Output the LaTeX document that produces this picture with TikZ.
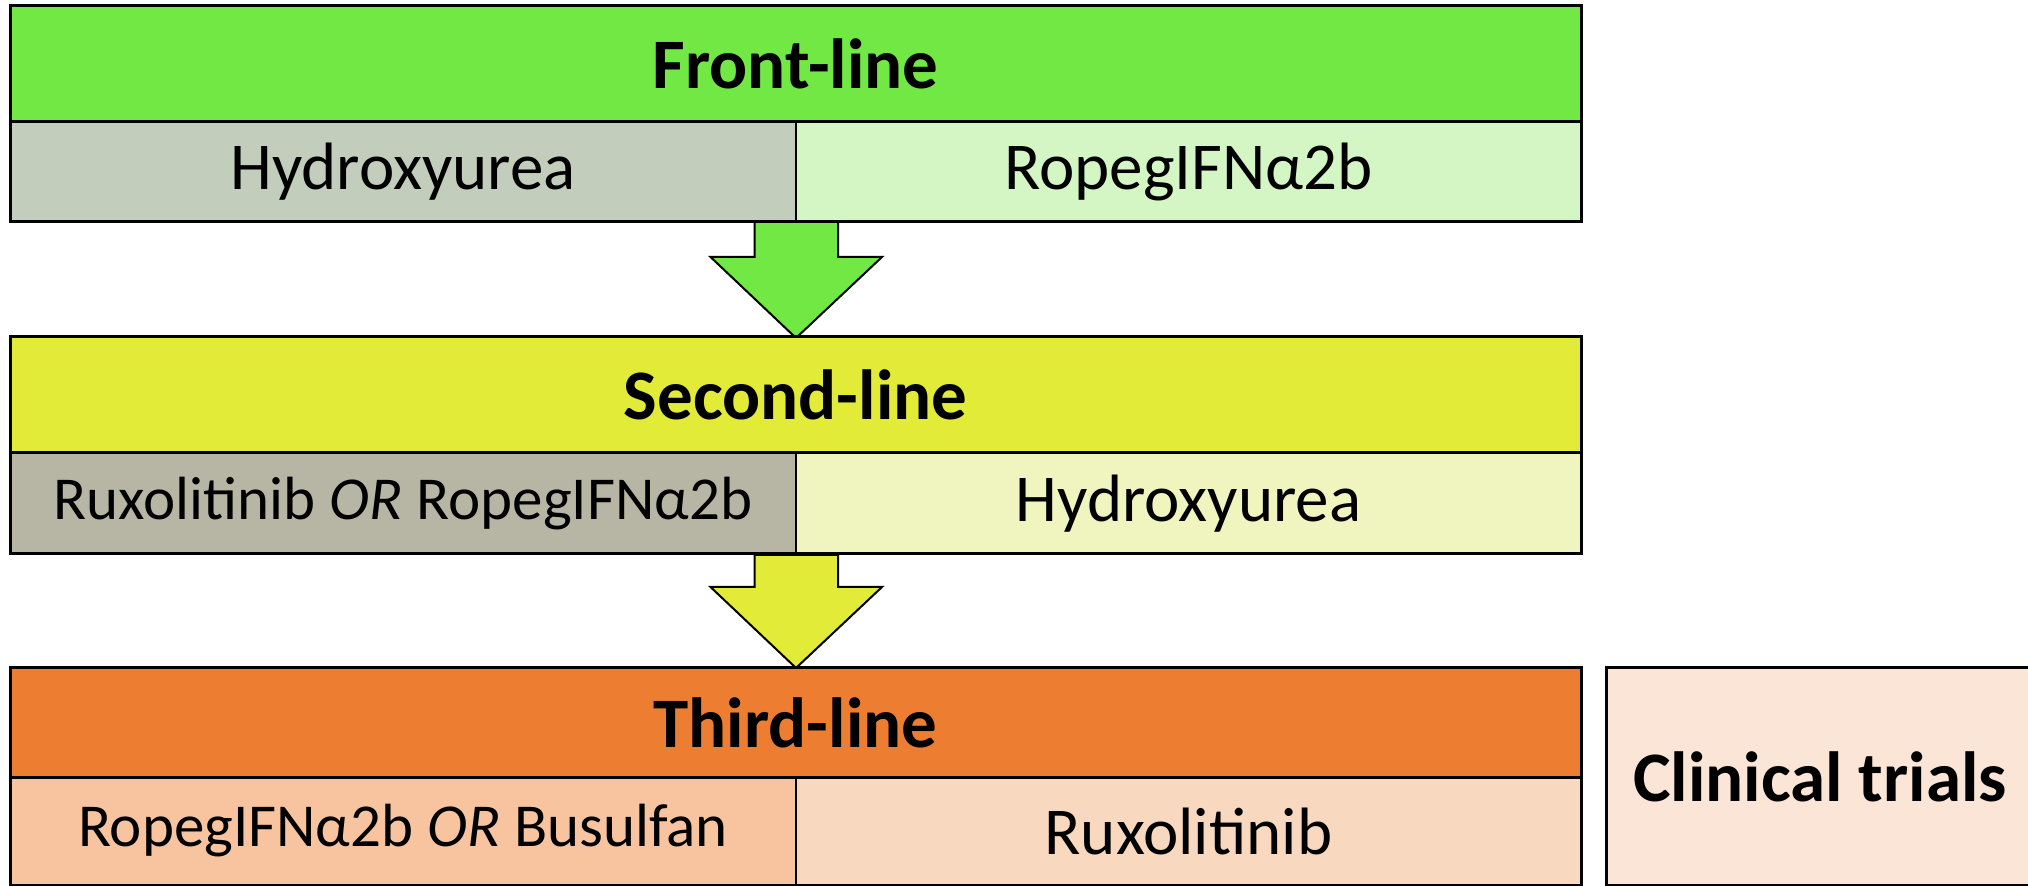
\documentclass[tikz,border=0pt]{standalone}
\usepackage{fontspec}
\setmainfont{Carlito}
\definecolor{hgreen}{RGB}{113,232,67}
\definecolor{cgrayg}{RGB}{194,205,187}
\definecolor{clgreen}{RGB}{212,245,196}
\definecolor{hyellow}{RGB}{226,235,56}
\definecolor{cgrayy}{RGB}{183,181,163}
\definecolor{clyellow}{RGB}{240,245,192}
\definecolor{horange}{RGB}{237,125,49}
\definecolor{csalmon}{RGB}{248,196,160}
\definecolor{cpeach}{RGB}{248,217,192}
\definecolor{cclin}{RGB}{251,229,214}
\begin{document}
\begin{tikzpicture}[x=0.5pt,y=-0.5pt,
  cell/.style={inner sep=0pt, draw=black, line width=1pt, font=\fontsize{33.5}{40}\selectfont},
  smallcell/.style={cell, font=\fontsize{30.5}{36}\selectfont},
  hdr/.style={inner sep=0pt, draw=black, line width=1.5pt, font=\fontsize{35.5}{42}\selectfont\bfseries},
  frame/.style={inner sep=0pt, draw=black, line width=1.5pt, minimum width=785.5pt},
  blockarrow/.style={draw=black, line width=1pt, line join=miter}]
\useasboundingbox (0,0) rectangle (2028,886);
\clip (0,0) rectangle (2028,886);
% arrows
\coordinate (a1) at (796,222);
\coordinate (a2) at (796,555);
\draw[blockarrow, fill=hgreen] (a1) ++(-41.5,0) -- ++(0,35) -- ++(-44,0) -- (796,338) -- (882,257) -- ++(-44,0) -- ++(0,-35) -- cycle;
\draw[blockarrow, fill=hyellow] (a2) ++(-41.5,0) -- ++(0,32) -- ++(-44,0) -- (796,668) -- (882,587) -- ++(-44,0) -- ++(0,-32) -- cycle;
% box 1
\node[cell, fill=cgrayg, minimum width=393pt, minimum height=50pt] (c11) at (403,172) {Hydroxyurea};
\node[cell, fill=clgreen, minimum width=392.5pt, minimum height=50pt] (c12) at (1188.5,172) {RopegIFNα2b};
\node[hdr, fill=hgreen, minimum width=785.5pt, minimum height=58pt] (h1) at (795.5,64) {Front-line};
\node[frame, minimum height=108pt] (b1) at (795.5,114) {};
% box 2
\node[smallcell, fill=cgrayy, minimum width=393pt, minimum height=50.5pt] (c21) at (403,503.5) {Ruxolitinib \textit{OR} RopegIFNα2b};
\node[cell, fill=clyellow, minimum width=392.5pt, minimum height=50.5pt] (c22) at (1188.5,503.5) {Hydroxyurea};
\node[hdr, fill=hyellow, minimum width=785.5pt, minimum height=58pt] (h2) at (795.5,395) {Second-line};
\node[frame, minimum height=108.5pt] (b2) at (795.5,445.5) {};
% box 3
\node[smallcell, fill=csalmon, minimum width=393pt, minimum height=54pt] (c31) at (403,831) {RopegIFNα2b \textit{OR} Busulfan};
\node[cell, fill=cpeach, minimum width=392.5pt, minimum height=54pt] (c32) at (1188.5,831) {Ruxolitinib};
\node[hdr, fill=horange, minimum width=785.5pt, minimum height=54.5pt] (h3) at (795.5,722.5) {Third-line};
\node[frame, minimum height=108.5pt] (b3) at (795.5,776.5) {};
% clinical trials
\node[hdr, fill=cclin, minimum width=214pt, minimum height=108.5pt] (ct) at (1820,776.5) {Clinical trials};
\end{tikzpicture}
\end{document}
